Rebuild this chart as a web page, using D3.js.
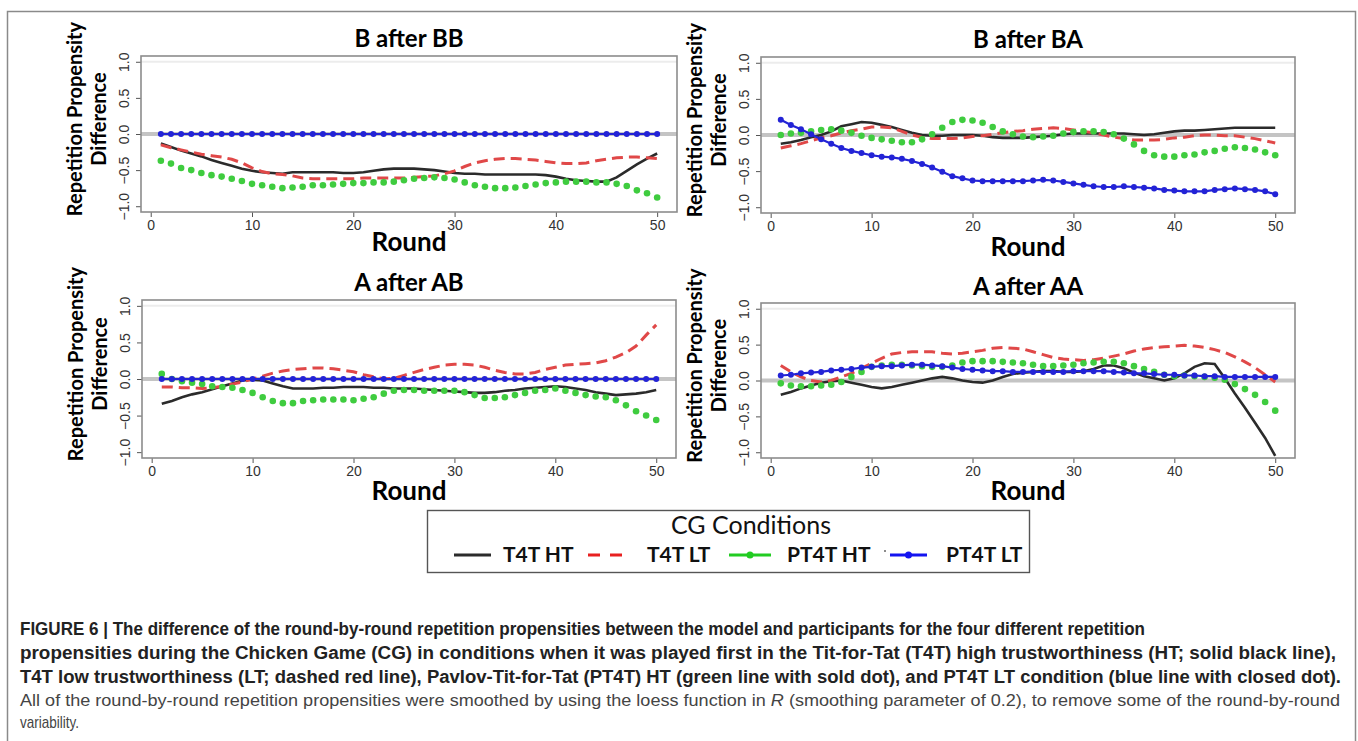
<!DOCTYPE html>
<html>
<head>
<meta charset="utf-8">
<script src="https://cdn.jsdelivr.net/npm/d3@7"></script>
<style>
    body { margin: 0; background: #fff; }
    svg { display: block; }
</style>
</head>
<body>
<svg id="chart" width="1358" height="741"></svg>
<script>
    // rounds 1..50 and axis ticks
    const rounds = d3.range(1, 51);
    const xTicks = [0, 10, 20, 30, 40, 50];
    const yTicks = [-1, -0.5, 0, 0.5, 1];

    const panelTitles = ["B after BB", "B after BA", "A after AB", "A after AA"];
    const legendLabels = ["T4T HT", "T4T LT", "PT4T HT", "PT4T LT"];

    // B after BB
    const bbT4tHT = [-0.13,-0.18,-0.23,-0.27,-0.31,-0.36,-0.40,-0.44,-0.48,-0.51,-0.53,-0.54,-0.55,-0.53,-0.53,-0.53,-0.53,-0.53,-0.54,-0.54,
                     -0.53,-0.51,-0.49,-0.48,-0.48,-0.48,-0.49,-0.50,-0.52,-0.54,-0.55,-0.55,-0.56,-0.56,-0.56,-0.56,-0.56,-0.56,-0.57,-0.59,
                     -0.62,-0.64,-0.65,-0.66,-0.66,-0.60,-0.51,-0.42,-0.34,-0.27];
    const bbT4tLT = [-0.15,-0.19,-0.22,-0.25,-0.28,-0.30,-0.32,-0.35,-0.40,-0.47,-0.52,-0.55,-0.56,-0.58,-0.61,-0.62,-0.62,-0.62,-0.62,-0.62,
                     -0.61,-0.61,-0.61,-0.61,-0.61,-0.60,-0.59,-0.58,-0.55,-0.51,-0.45,-0.40,-0.37,-0.35,-0.34,-0.34,-0.35,-0.36,-0.38,-0.40,
                     -0.41,-0.41,-0.40,-0.37,-0.35,-0.33,-0.32,-0.32,-0.33,-0.34];
    const bbPt4tHT = [-0.37,-0.41,-0.47,-0.50,-0.54,-0.57,-0.59,-0.62,-0.65,-0.69,-0.71,-0.73,-0.75,-0.74,-0.73,-0.71,-0.71,-0.70,-0.69,-0.68,
                      -0.68,-0.67,-0.67,-0.66,-0.64,-0.62,-0.61,-0.60,-0.61,-0.63,-0.67,-0.71,-0.73,-0.75,-0.75,-0.74,-0.72,-0.70,-0.68,-0.67,
                      -0.66,-0.66,-0.66,-0.67,-0.67,-0.69,-0.72,-0.78,-0.82,-0.88];
    const bbPt4tLT = [0,0,0,0,0,0,0,0,0,0,0,0,0,0,0,0,0,0,0,0,0,0,0,0,0,0,0,0,0,0,0,0,0,0,0,0,0,0,0,0,0,0,0,0,0,0,0,0,0,0];

    // B after BA
    const baT4tHT = [-0.12,-0.10,-0.07,-0.03,0.00,0.05,0.12,0.15,0.18,0.17,0.14,0.11,0.07,0.03,0.00,-0.01,-0.01,0.00,0.00,0.00,
                     -0.01,-0.03,-0.04,-0.04,-0.04,-0.03,-0.02,-0.01,0.01,0.02,0.02,0.02,0.02,0.02,0.02,0.01,0.00,0.01,0.03,0.05,
                     0.06,0.06,0.07,0.08,0.09,0.10,0.10,0.10,0.10,0.10];
    const baT4tLT = [-0.18,-0.15,-0.12,-0.08,-0.04,-0.01,0.03,0.06,0.08,0.11,0.11,0.10,0.05,0.00,-0.03,-0.05,-0.05,-0.05,-0.04,-0.02,
                     -0.01,0.01,0.03,0.05,0.06,0.08,0.09,0.10,0.09,0.07,0.05,0.03,0.00,-0.03,-0.05,-0.07,-0.07,-0.07,-0.06,-0.04,
                     -0.03,-0.01,0.00,0.00,-0.01,-0.01,-0.03,-0.05,-0.08,-0.11];
    const baPt4tHT = [0.00,0.02,0.03,0.05,0.07,0.08,0.06,0.03,-0.01,-0.04,-0.06,-0.08,-0.10,-0.10,-0.06,0.01,0.10,0.18,0.21,0.20,
                      0.17,0.11,0.05,0.01,-0.02,-0.03,-0.02,-0.01,0.02,0.04,0.05,0.05,0.04,0.01,-0.05,-0.13,-0.22,-0.28,-0.30,-0.30,
                      -0.28,-0.27,-0.24,-0.22,-0.19,-0.17,-0.18,-0.20,-0.24,-0.28];
    const baPt4tLT = [0.21,0.14,0.08,0.01,-0.06,-0.12,-0.18,-0.22,-0.25,-0.28,-0.30,-0.31,-0.33,-0.36,-0.40,-0.45,-0.51,-0.57,-0.60,-0.63,
                      -0.64,-0.64,-0.64,-0.64,-0.64,-0.63,-0.62,-0.63,-0.65,-0.67,-0.69,-0.71,-0.72,-0.72,-0.71,-0.72,-0.73,-0.74,-0.76,-0.77,
                      -0.78,-0.78,-0.78,-0.76,-0.75,-0.74,-0.75,-0.76,-0.78,-0.82];

    // A after AB
    const abT4tHT = [-0.34,-0.30,-0.25,-0.21,-0.18,-0.14,-0.10,-0.06,-0.02,-0.01,-0.02,-0.06,-0.10,-0.13,-0.13,-0.13,-0.12,-0.12,-0.11,-0.11,
                     -0.11,-0.12,-0.12,-0.13,-0.13,-0.13,-0.14,-0.15,-0.16,-0.17,-0.18,-0.19,-0.19,-0.18,-0.16,-0.15,-0.13,-0.12,-0.11,-0.10,
                     -0.11,-0.13,-0.15,-0.18,-0.20,-0.22,-0.21,-0.20,-0.18,-0.15];
    const abT4tLT = [-0.11,-0.11,-0.12,-0.12,-0.13,-0.12,-0.10,-0.07,-0.04,0.00,0.04,0.08,0.11,0.13,0.14,0.15,0.15,0.14,0.12,0.10,
                     0.06,0.03,0.00,0.01,0.05,0.09,0.13,0.16,0.19,0.20,0.20,0.19,0.16,0.12,0.09,0.07,0.07,0.09,0.13,0.16,
                     0.19,0.20,0.21,0.22,0.25,0.30,0.36,0.45,0.60,0.74];
    const abPt4tHT = [0.07,0.00,-0.03,-0.05,-0.07,-0.10,-0.11,-0.12,-0.15,-0.19,-0.25,-0.30,-0.33,-0.33,-0.30,-0.29,-0.28,-0.28,-0.28,-0.29,
                      -0.27,-0.25,-0.20,-0.16,-0.15,-0.15,-0.16,-0.16,-0.16,-0.16,-0.18,-0.22,-0.26,-0.26,-0.25,-0.22,-0.19,-0.16,-0.15,-0.13,
                      -0.16,-0.19,-0.22,-0.24,-0.25,-0.29,-0.36,-0.44,-0.50,-0.56];
    const abPt4tLT = [0,0,0,0,0,0,0,0,0,0,0,0,0,0,0,0,0,0,0,0,0,0,0,0,0,0,0,0,0,0,0,0,0,0,0,0,0,0,0,0,0,0,0,0,0,0,0,0,0,0];

    // A after AA
    const aaT4tHT = [-0.20,-0.16,-0.11,-0.07,-0.03,-0.01,0.00,-0.03,-0.06,-0.09,-0.11,-0.09,-0.06,-0.03,0.00,0.03,0.05,0.03,0.00,-0.02,
                     -0.03,0.00,0.05,0.09,0.11,0.12,0.13,0.13,0.12,0.12,0.13,0.16,0.21,0.21,0.17,0.11,0.06,0.03,0.00,0.03,
                     0.10,0.19,0.24,0.23,0.03,-0.18,-0.38,-0.59,-0.80,-1.05];
    const aaT4tLT = [0.21,0.12,0.05,0.00,-0.02,0.00,0.05,0.10,0.17,0.24,0.31,0.37,0.39,0.40,0.40,0.40,0.38,0.37,0.38,0.40,
                     0.42,0.45,0.46,0.45,0.44,0.40,0.36,0.32,0.30,0.29,0.28,0.29,0.31,0.34,0.37,0.41,0.44,0.46,0.47,0.48,
                     0.49,0.48,0.46,0.43,0.39,0.33,0.26,0.18,0.08,-0.02];
    const aaPt4tHT = [-0.04,-0.07,-0.08,-0.08,-0.07,-0.06,-0.02,0.05,0.12,0.19,0.21,0.22,0.22,0.21,0.20,0.19,0.19,0.21,0.25,0.27,
                      0.27,0.27,0.26,0.25,0.24,0.22,0.20,0.20,0.21,0.22,0.24,0.25,0.26,0.26,0.24,0.20,0.16,0.12,0.08,0.06,
                      0.07,0.06,0.05,0.04,0.01,-0.05,-0.12,-0.20,-0.30,-0.42];
    const aaPt4tLT = [0.07,0.08,0.10,0.11,0.12,0.14,0.15,0.16,0.18,0.19,0.20,0.20,0.21,0.22,0.22,0.21,0.20,0.18,0.16,0.15,
                      0.14,0.13,0.13,0.12,0.12,0.12,0.12,0.12,0.12,0.13,0.13,0.13,0.13,0.12,0.11,0.10,0.10,0.09,0.08,0.08,
                      0.07,0.07,0.06,0.06,0.05,0.05,0.05,0.05,0.05,0.05];

    const panelSeries = [
        [bbT4tHT, bbT4tLT, bbPt4tHT, bbPt4tLT],
        [baT4tHT, baT4tLT, baPt4tHT, baPt4tLT],
        [abT4tHT, abT4tLT, abPt4tHT, abPt4tLT],
        [aaT4tHT, aaT4tLT, aaPt4tHT, aaPt4tLT]
    ];

    const captionBold = [
        "FIGURE 6 | The difference of the round-by-round repetition propensities between the model and participants for the four different repetition",
        "propensities during the Chicken Game (CG) in conditions when it was played first in the Tit-for-Tat (T4T) high trustworthiness (HT; solid black line),",
        "T4T low trustworthiness (LT; dashed red line), Pavlov-Tit-for-Tat (PT4T) HT (green line with sold dot), and PT4T LT condition (blue line with closed dot)."
    ];
    const captionPlain = [
        ["All of the round-by-round repetition propensities were smoothed by using the loess function in ", "R", " (smoothing parameter of 0.2), to remove some of the round-by-round"],
        ["variability."]
    ];

    // where each panel box sits on the page
    const boxes = [
        {left: 141, right: 677, top: 56, bottom: 212},
        {left: 761, right: 1295, top: 57, bottom: 213},
        {left: 142, right: 676, top: 300, bottom: 458},
        {left: 761, right: 1295, top: 303, bottom: 458}
    ];
    const titleY = [47, 48, 291, 295];
    const roundY = [251, 256, 500, 500];

    const colors = ["#2b2b2b", "#e04848", "#3fcc3f", "#2323d6"];
    const titleFont = "Lato, 'Open Sans', sans-serif";
    const tickFont = "'Liberation Sans', Arial, sans-serif";

    const svg = d3.select("#chart");

    // outer frame
    svg.append("rect")
       .attr("x", 7.5).attr("y", 11.5)
       .attr("width", 1348).attr("height", 800)
       .attr("fill", "none").attr("stroke", "#8a8a8a").attr("stroke-width", 1.5);

    boxes.forEach((b, i) => {
        const x = d3.scaleLinear().domain([-0.96, 51.96]).range([b.left, b.right]);
        const y = d3.scaleLinear().domain([-1.08, 1.08]).range([b.bottom, b.top]);
        const g = svg.append("g");
        const cx = (b.left + b.right) / 2;
        const cy = (b.top + b.bottom) / 2 - 15;

        g.append("clipPath").attr("id", "clip" + i)
         .append("rect")
         .attr("x", b.left).attr("y", b.top)
         .attr("width", b.right - b.left).attr("height", b.bottom - b.top);

        // faint line near the top edge, as in the scan
        g.append("line")
         .attr("x1", b.left).attr("x2", b.right)
         .attr("y1", y(1)).attr("y2", y(1))
         .attr("stroke", "#ececec").attr("stroke-width", 2);

        // zero reference line
        g.append("line")
         .attr("x1", b.left).attr("x2", b.right)
         .attr("y1", y(0)).attr("y2", y(0))
         .attr("stroke", "#c4c4c4").attr("stroke-width", 4);

        // x axis
        const xAxis = g.append("g")
         .attr("transform", `translate(0,${b.bottom})`)
         .call(d3.axisBottom(x).tickValues(xTicks).tickSize(5).tickSizeOuter(0).tickPadding(3));
        // y axis, labels turned like R does
        const yAxis = g.append("g")
         .attr("transform", `translate(${b.left},0)`)
         .call(d3.axisLeft(y).tickValues(yTicks).tickSize(5).tickSizeOuter(0)
               .tickFormat(d => d3.format(".1f")(d).replace("-", "\u2212")));
        [xAxis, yAxis].forEach(a => {
            a.select(".domain").remove();
            a.selectAll("line").attr("stroke", "#555");
            a.selectAll("text").attr("fill", "#333")
             .style("font-family", tickFont).style("font-size", "14px");
        });
        yAxis.selectAll("text")
             .attr("x", null).attr("dy", null)
             .attr("text-anchor", "middle")
             .attr("transform", "translate(-12,0) rotate(-90)");

        const plot = g.append("g").attr("clip-path", `url(#clip${i})`);
        const series = panelSeries[i];
        const line = d3.line().x((d, k) => x(rounds[k])).y(d => y(d));

        plot.append("path").datum(series[0])
            .attr("d", line).attr("fill", "none")
            .attr("stroke", colors[0]).attr("stroke-width", 2.6);
        plot.append("path").datum(series[1])
            .attr("d", line).attr("fill", "none")
            .attr("stroke", colors[1]).attr("stroke-width", 3)
            .attr("stroke-dasharray", "11,6");
        plot.selectAll(".g-dot").data(series[2]).enter()
            .append("circle").attr("class", "g-dot")
            .attr("cx", (d, k) => x(rounds[k])).attr("cy", d => y(d))
            .attr("r", 3.3).attr("fill", colors[2]);
        plot.append("path").datum(series[3])
            .attr("d", line).attr("fill", "none")
            .attr("stroke", colors[3]).attr("stroke-width", 2.2);
        plot.selectAll(".b-dot").data(series[3]).enter()
            .append("circle").attr("class", "b-dot")
            .attr("cx", (d, k) => x(rounds[k])).attr("cy", d => y(d))
            .attr("r", 3).attr("fill", colors[3]);

        // box
        g.append("rect")
         .attr("x", b.left).attr("y", b.top)
         .attr("width", b.right - b.left).attr("height", b.bottom - b.top)
         .attr("fill", "none").attr("stroke", "#8c8c8c").attr("stroke-width", 1.6);

        // texts
        g.append("text").text(panelTitles[i])
         .attr("x", cx).attr("y", titleY[i]).attr("text-anchor", "middle")
         .style("font-family", titleFont).style("font-weight", "bold").style("font-size", "24px");
        g.append("text").text("Round")
         .attr("x", cx).attr("y", roundY[i]).attr("text-anchor", "middle")
         .style("font-family", titleFont).style("font-weight", "bold").style("font-size", "26px");
        g.append("text").text("Repetition Propensity")
         .attr("text-anchor", "middle")
         .attr("transform", `translate(${b.left - 59},${cy}) rotate(-90)`)
         .style("font-family", titleFont).style("font-weight", "bold").style("font-size", "20px");
        g.append("text").text("Difference")
         .attr("text-anchor", "middle")
         .attr("transform", `translate(${b.left - 35},${cy}) rotate(-90)`)
         .style("font-family", titleFont).style("font-weight", "bold").style("font-size", "20px");
    });

    // legend
    const legend = svg.append("g");
    legend.append("rect")
          .attr("x", 427.5).attr("y", 510.5).attr("width", 602).attr("height", 62)
          .attr("fill", "#fff").attr("stroke", "#555").attr("stroke-width", 1.4);
    legend.append("text").text("CG Conditions")
          .attr("x", 751).attr("y", 534).attr("text-anchor", "middle")
          .style("font-family", titleFont).style("font-size", "25px").attr("fill", "#111");

    const swatchX = [454, 588, 729, 890];
    const swatchW = [37, 34, 42, 37];
    const labelX = [503, 647, 787, 946];
    const legY = 555;
    legendLabels.forEach((lab, k) => {
        const s = legend.append("line")
            .attr("x1", swatchX[k]).attr("x2", swatchX[k] + swatchW[k])
            .attr("y1", legY).attr("y2", legY)
            .attr("stroke", colors[k]).attr("stroke-width", 3);
        if (k === 1) s.attr("stroke-dasharray", "12,10").attr("stroke", "#e82020");
        if (k === 2) s.attr("stroke", "#22cc22");
        if (k === 3) s.attr("stroke", "#1414f0");
        if (k >= 2) {
            legend.append("circle")
                  .attr("cx", swatchX[k] + swatchW[k] / 2).attr("cy", legY).attr("r", 3.5)
                  .attr("fill", k === 2 ? "#22cc22" : "#1414f0");
        }
        legend.append("text").text(lab)
              .attr("x", labelX[k]).attr("y", legY + 7)
              .style("font-family", titleFont).style("font-weight", "bold").style("font-size", "21px")
              .attr("fill", "#111");
    });
    // the small stray dot printed before the blue swatch
    legend.append("circle").attr("cx", 885).attr("cy", 551).attr("r", 1).attr("fill", "#666");

    // caption
    const capFont = "'Liberation Sans Narrow', 'Arial Narrow', 'Liberation Sans', sans-serif";
    const capBaseline = [635, 659, 683, 706, 728];
    const capWidth = [1125, 1316, 1321, 1320, 59];
    captionBold.forEach((t, k) => {
        svg.append("text").text(t)
           .attr("x", 20).attr("y", capBaseline[k])
           .attr("textLength", capWidth[k]).attr("lengthAdjust", "spacingAndGlyphs")
           .style("font-family", capFont).style("font-weight", "bold").style("font-size", "18px")
           .attr("fill", "#222");
    });
    captionPlain.forEach((parts, k) => {
        const t = svg.append("text")
           .attr("x", 20).attr("y", capBaseline[3 + k])
           .attr("textLength", capWidth[3 + k]).attr("lengthAdjust", "spacingAndGlyphs")
           .style("font-family", capFont).style("font-size", "17px")
           .attr("fill", "#444");
        parts.forEach((p, j) => {
            const ts = t.append("tspan").text(p);
            if (j === 1) ts.style("font-style", "italic");
        });
    });
</script>
</body>
</html>
